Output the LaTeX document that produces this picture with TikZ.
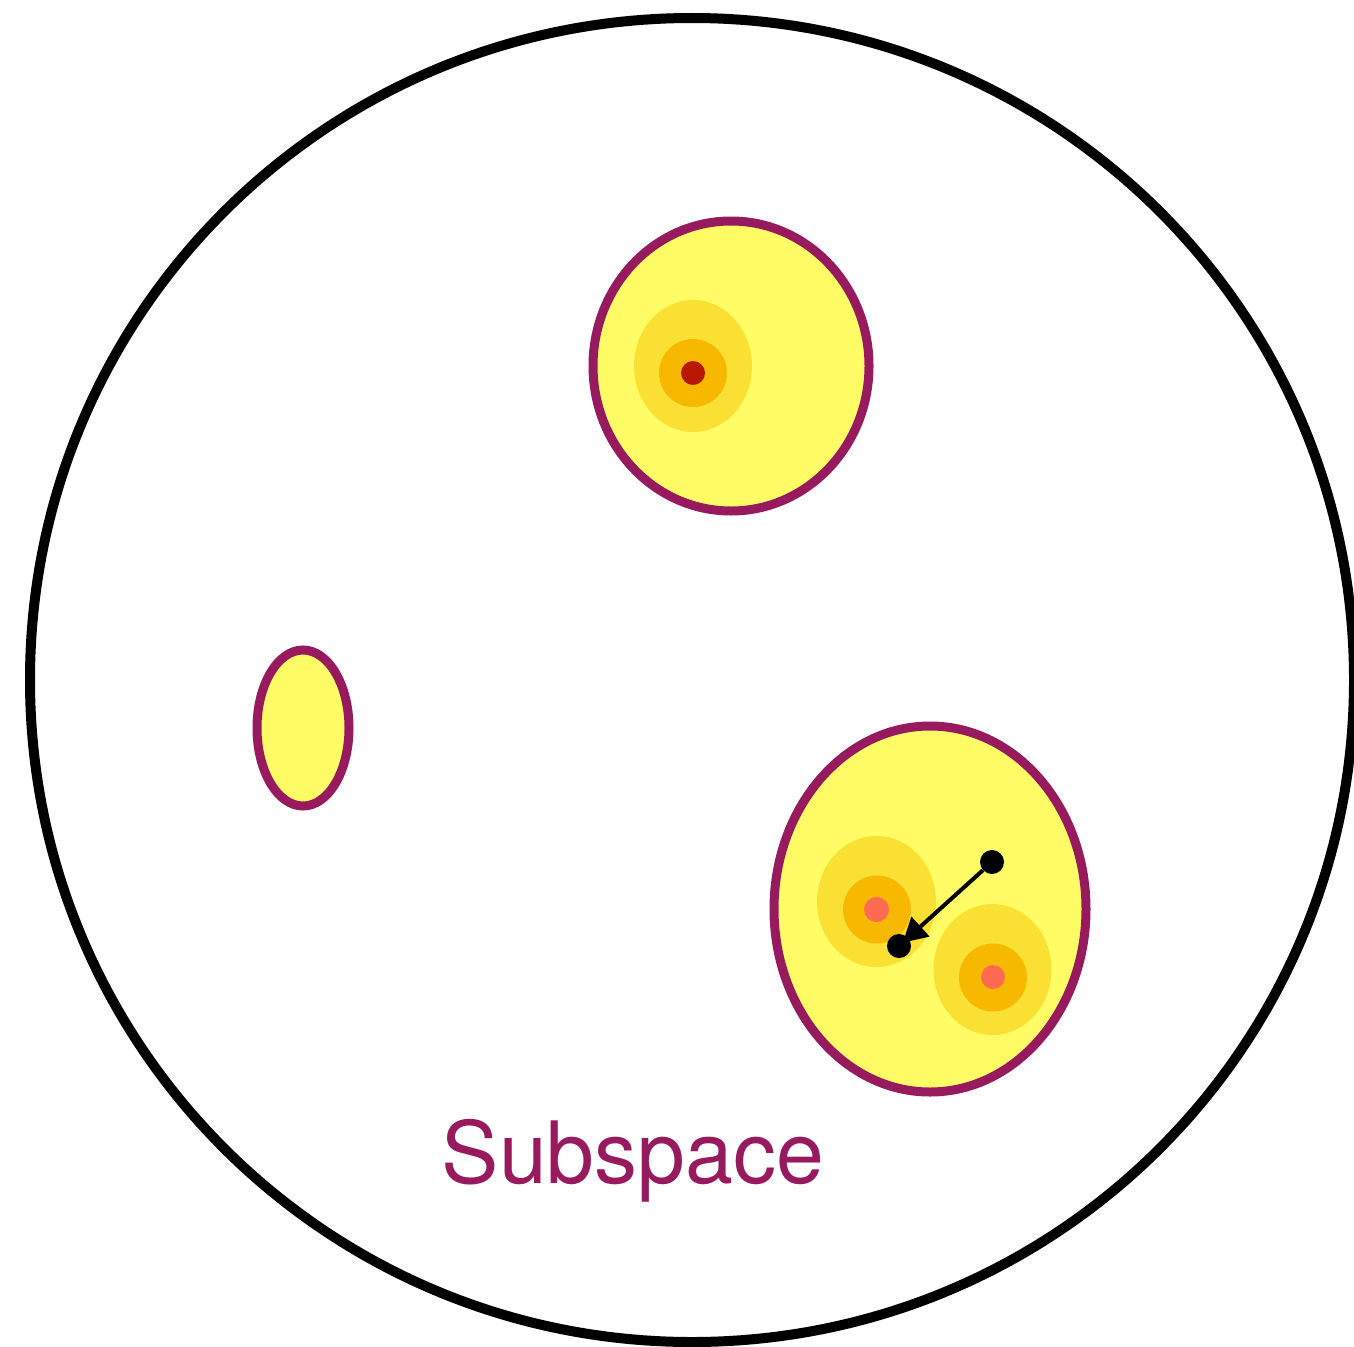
\documentclass[tikz,border=0pt]{standalone}
\usepackage{fontspec}
\setmainfont{TeX Gyre Heros}
\usetikzlibrary{arrows.meta}
\definecolor{blobfill}{HTML}{FFFC66}
\definecolor{goldring}{HTML}{F9E033}
\definecolor{orangering}{HTML}{F7B800}
\definecolor{darkcore}{HTML}{B81800}
\definecolor{salmoncore}{HTML}{FF6B50}
\definecolor{plum}{HTML}{981A5E}
\begin{document}
\begin{tikzpicture}[x=1pt,y=-1pt,
  blob/.style={draw=plum,line width=9pt,fill=blobfill},
  dotnode/.style={circle,fill=black,inner sep=0pt,minimum size=24pt}]
\useasboundingbox (0,0) rectangle (1354,1346);
% big space
\draw[line width=10pt] (692,680) circle[radius=662];
% top blob
\draw[blob] (731,366) ellipse[x radius=138,y radius=145];
\fill[goldring] (693,366) ellipse[x radius=59,y radius=66];
\fill[orangering] (693,373) circle[radius=34];
\fill[darkcore] (693,373) circle[radius=12];
% left blob
\draw[blob] (303,728) ellipse[x radius=46,y radius=78];
% bottom right blob
\draw[blob] (930,909) ellipse[x radius=156,y radius=183];
\fill[goldring] (876.5,901.5) ellipse[x radius=59.5,y radius=65.5];
\fill[orangering] (877,909.5) circle[radius=34];
\fill[salmoncore] (876.5,909.5) circle[radius=12.5];
\fill[goldring] (992.5,969.5) ellipse[x radius=59,y radius=65.5];
\fill[orangering] (993,977.5) circle[radius=34];
\fill[salmoncore] (993,977) circle[radius=12];
% arrow
\node[dotnode] (start) at (992,862) {};
\node[dotnode] (stop) at (899,946) {};
\draw[line width=4pt,shorten >=5pt,-{Triangle[length=24pt,width=26pt]}] (start) -- (stop.center);
% label
\node[anchor=base,text=plum,inner sep=0pt,font=\fontsize{86}{100}\selectfont] (label) at (633,1183) {Subspace};
\end{tikzpicture}
\end{document}
